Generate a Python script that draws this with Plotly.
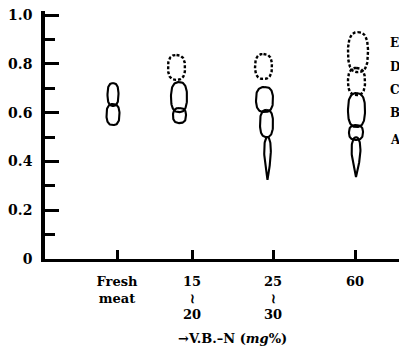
import numpy as np
import plotly.graph_objects as go

# Lanes (VBN level groups) and their positions on the horizontal axis
lane_labels = ["Fresh<br>meat", "15<br>≀<br>20", "25<br>≀<br>30", "60"]
lane_pos = [72, 147, 228, 310]

# Spot outlines: centre x, top Rf, bottom Rf, half width, dashed?, tapered?
spot_cx = [68, 68,
           131.5, 134, 134.5,
           218.5, 219.5, 221.5, 222.5,
           313, 311.5, 311.5, 311, 311]
spot_top = [0.721, 0.635,
            0.836, 0.725, 0.619,
            0.840, 0.705, 0.611, 0.500,
            0.930, 0.783, 0.680, 0.549, 0.500]
spot_bot = [0.627, 0.549,
            0.734, 0.602, 0.557,
            0.738, 0.602, 0.500, 0.324,
            0.766, 0.672, 0.541, 0.488, 0.336]
spot_hw = [5.5, 6.5,
           8.5, 8, 6.5,
           8.5, 8.5, 6.5, 4.5,
           10, 8.5, 8.5, 7, 6]
spot_dashed = [False, False,
               True, False, False,
               True, False, False, False,
               True, True, False, False, False]
spot_taper = [False, False,
              False, False, False,
              False, False, False, True,
              False, False, False, False, True]

# Fraction letters beside the last lane
frac_letters = ["E", "D", "C", "B", "A"]
frac_y = [0.885, 0.787, 0.693, 0.598, 0.488]

y_tickvals = [0, 0.2, 0.4, 0.6, 0.8, 1.0]
y_ticktext = ["0", "0.2", "0.4", "0.6", "0.8", "1.0"]

SERIF = "DejaVu Serif"


def outline(cx, top, bot, hw, taper, n=90):
    # rounded-rectangle (superellipse) outline; tapered spots end in a point
    t = np.linspace(0, 2 * np.pi, n)
    mid = (top + bot) / 2
    hh = (top - bot) / 2
    c, s = np.cos(t), np.sin(t)
    p = 2.6
    y = mid + hh * np.sign(c) * np.abs(c) ** (2 / p)
    w = np.sign(s) * np.abs(s) ** (2 / p)
    if taper:
        w = np.sin(t) * ((1 + c) / 2) ** 0.6
        y = mid + hh * c
    return cx + hw * w, y


fig = go.Figure()
for cx, tp, bt, hw, dashed, taper in zip(spot_cx, spot_top, spot_bot,
                                         spot_hw, spot_dashed, spot_taper):
    xs, ys = outline(cx, tp, bt, hw, taper)
    fig.add_trace(go.Scatter(
        x=xs, y=ys, mode="lines", hoverinfo="skip", showlegend=False,
        line=dict(color="black", width=2.4 if dashed else 2.1,
                  dash="3px,2px" if dashed else "solid"),
    ))

for letter, yv in zip(frac_letters, frac_y):
    fig.add_annotation(x=343, y=yv, xref="x", yref="y", text=letter,
                       showarrow=False, xanchor="left", yanchor="middle",
                       font=dict(family=SERIF, size=12, color="black",
                                 weight="bold"))

fig.add_annotation(x=187, y=-0.319, xref="x", yref="paper",
                   text="→V.B.–N (<i>mg</i>%)", showarrow=False,
                   xanchor="center", yanchor="middle",
                   font=dict(family=SERIF, size=13, color="black",
                             weight="bold"))

fig.update_xaxes(
    range=[0, 354], showgrid=False, zeroline=False,
    showline=True, linecolor="black", linewidth=3,
    tickmode="array", tickvals=lane_pos, ticktext=lane_labels,
    ticks="inside", ticklen=9, tickwidth=3, tickcolor="black",
    ticklabelstandoff=8,
    tickfont=dict(family=SERIF, size=13, color="black", weight="bold"),
)
fig.update_yaxes(
    range=[0, 1.0164], showgrid=False, zeroline=False,
    showline=True, linecolor="black", linewidth=3.5,
    tickmode="array", tickvals=y_tickvals, ticktext=y_ticktext,
    ticks="inside", ticklen=14, tickwidth=3, tickcolor="black",
    minor=dict(tickvals=[0.1, 0.3, 0.5, 0.7, 0.9], ticks="inside",
               ticklen=10, tickwidth=3, tickcolor="black"),
    ticklabelstandoff=6,
    tickfont=dict(family=SERIF, size=14, color="black", weight="bold"),
)
fig.update_layout(
    width=399, height=349,
    margin=dict(l=45, r=0, t=11, b=90),
    paper_bgcolor="white", plot_bgcolor="white",
)
fig.write_html("out.html")
